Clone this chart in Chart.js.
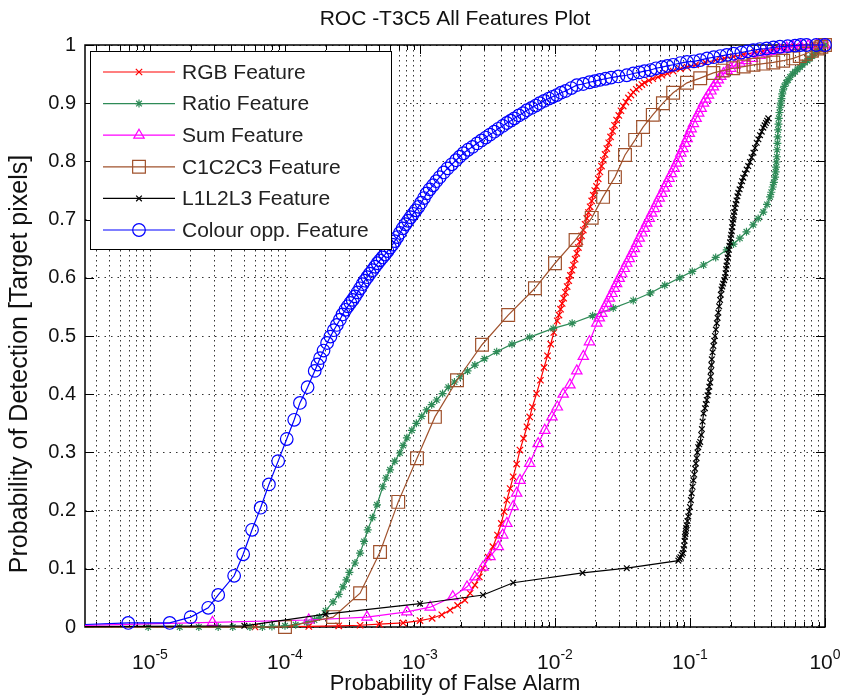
<!DOCTYPE html>
<html>
<head>
<meta charset="utf-8">
<title>ROC -T3C5 All Features Plot</title>
<script src="https://cdn.jsdelivr.net/npm/chart.js@4.4.1/dist/chart.umd.min.js"></script>
<style>
  html, body { margin: 0; padding: 0; background: #fff; }
  #wrap { width: 842px; height: 699px; }
</style>
</head>
<body>
<div id="wrap"><canvas id="rocChart" width="842" height="699"></canvas></div>
<script>
const FONT = "'Liberation Sans', Arial, Helvetica, sans-serif";

const chartTitle = 'ROC -T3C5 All Features Plot';
const xAxisTitle = 'Probability of False Alarm';
const yAxisTitle = 'Probability of Detection [Target pixels]';

// axis range and ticks
const xMin = 3.3e-6;
const xMax = 1;
const xDecades = [1e-6, 1e-5, 1e-4, 1e-3, 1e-2, 1e-1, 1];
const xMinorSteps = [1, 2, 3, 4, 5, 6, 7, 8, 9];
const xLabelValues = [1e-5, 1e-4, 1e-3, 1e-2, 1e-1, 1];
const xLabelExponents = ['-5', '-4', '-3', '-2', '-1', '0'];
const yTickValues = [0, 0.1, 0.2, 0.3, 0.4, 0.5, 0.6, 0.7, 0.8, 0.9, 1];
const yTickLabels = ['0', '0.1', '0.2', '0.3', '0.4', '0.5', '0.6', '0.7', '0.8', '0.9', '1'];

const legendLabels = ['RGB Feature', 'Ratio Feature', 'Sum Feature', 'C1C2C3 Feature', 'L1L2L3 Feature', 'Colour opp. Feature'];

// RGB feature: false alarm / detection
const rgbFa = [1e-6, 6.0e-5, 1.5e-4, 2.5e-4, 3.6e-4, 5.0e-4, 7.5e-4, 1.0e-3, 1.23e-3, 1.45e-3, 1.67e-3, 1.9e-3,
  2.15e-3, 2.35e-3, 2.55e-3, 2.75e-3, 2.93e-3, 3.2e-3, 3.47e-3, 3.75e-3, 4.0e-3, 4.2e-3, 4.4e-3, 4.65e-3, 4.9e-3,
  5.2e-3, 5.5e-3, 5.85e-3, 6.2e-3, 6.5e-3, 6.8e-3, 7.3e-3, 7.8e-3, 8.3e-3, 8.8e-3, 9.3e-3, 9.8e-3,
  1.04e-2, 1.07e-2, 1.1e-2, 1.13e-2, 1.16e-2, 1.195e-2, 1.23e-2, 1.265e-2, 1.3e-2, 1.335e-2, 1.37e-2, 1.41e-2,
  1.45e-2, 1.49e-2, 1.53e-2, 1.575e-2, 1.62e-2, 1.67e-2, 1.72e-2, 1.77e-2, 1.82e-2, 1.87e-2, 1.92e-2, 1.97e-2,
  2.03e-2, 2.09e-2, 2.15e-2, 2.21e-2, 2.28e-2, 2.35e-2, 2.42e-2, 2.5e-2, 2.58e-2, 2.67e-2, 2.76e-2, 2.86e-2,
  2.97e-2, 3.08e-2, 3.2e-2, 3.35e-2, 3.5e-2, 3.65e-2, 3.8e-2, 4.0e-2, 4.2e-2, 4.4e-2, 4.6e-2, 4.95e-2, 5.3e-2,
  5.8e-2, 6.2e-2, 6.8e-2, 7.5e-2, 8.5e-2, 9.5e-2, 0.11, 0.13, 0.155, 0.18, 0.21, 0.25, 0.3, 0.35, 0.42, 0.5, 0.6,
  0.7, 0.85, 1.0];
const rgbPd = [0, 0, 0.001, 0.002, 0.003, 0.005, 0.007, 0.011, 0.015, 0.021, 0.029, 0.037,
  0.046, 0.058, 0.072, 0.086, 0.101, 0.12, 0.138, 0.158, 0.178, 0.198, 0.218, 0.238, 0.258,
  0.28, 0.304, 0.324, 0.344, 0.361, 0.378, 0.401, 0.424, 0.446, 0.466, 0.486, 0.506,
  0.526, 0.536, 0.546, 0.556, 0.565, 0.575, 0.585, 0.595, 0.604, 0.613, 0.622, 0.632,
  0.642, 0.652, 0.662, 0.672, 0.682, 0.692, 0.702, 0.712, 0.722, 0.732, 0.742, 0.75,
  0.757, 0.77, 0.782, 0.792, 0.802, 0.812, 0.822, 0.832, 0.842, 0.852, 0.862, 0.871,
  0.879, 0.887, 0.895, 0.902, 0.909, 0.914, 0.919, 0.924, 0.928, 0.932, 0.935, 0.939, 0.942,
  0.945, 0.948, 0.951, 0.955, 0.959, 0.962, 0.966, 0.97, 0.974, 0.977, 0.98, 0.984, 0.987, 0.99, 0.993, 0.995, 0.997,
  0.998, 0.999, 1.0];

// Ratio feature
const ratioFa = [1e-6, 9.7e-6, 1.66e-5, 2.3e-5, 3.2e-5, 4.1e-5, 5.5e-5, 6.8e-5, 8.0e-5, 1.0e-4, 1.2e-4, 1.45e-4,
  1.65e-4, 1.8e-4, 2.0e-4, 2.27e-4, 2.5e-4, 2.69e-4, 2.85e-4, 3.0e-4, 3.3e-4, 3.6e-4, 3.85e-4, 4.1e-4, 4.45e-4,
  4.8e-4, 5.3e-4, 5.6e-4, 6.0e-4, 6.5e-4, 7.1e-4, 7.5e-4, 8.0e-4, 8.7e-4, 9.4e-4, 1.03e-3, 1.12e-3, 1.22e-3,
  1.33e-3, 1.47e-3, 1.62e-3, 1.8e-3, 1.98e-3, 2.25e-3, 2.55e-3, 3.0e-3, 3.7e-3, 4.8e-3, 6.5e-3, 9.7e-3, 1.34e-2,
  1.9e-2, 2.7e-2, 3.8e-2, 5.1e-2, 6.5e-2, 8.4e-2, 0.104, 0.126, 0.155, 0.187, 0.21, 0.234, 0.262, 0.294, 0.32,
  0.349, 0.372, 0.392, 0.4, 0.41, 0.418, 0.427, 0.431, 0.434, 0.437, 0.44, 0.442, 0.444, 0.446, 0.449, 0.452,
  0.455, 0.46, 0.465, 0.47, 0.476, 0.482, 0.489, 0.5, 0.515, 0.532, 0.551, 0.575, 0.6, 0.625, 0.653, 0.68, 0.71,
  0.74, 0.774, 0.805, 0.84, 0.88, 0.918, 0.96, 1.0];
const ratioPd = [0, 0, 0, 0, 0, 0, 0, 0, 0.001, 0.002, 0.004, 0.008,
  0.012, 0.017, 0.028, 0.043, 0.056, 0.069, 0.081, 0.094, 0.11, 0.127, 0.147, 0.167, 0.188,
  0.21, 0.241, 0.256, 0.27, 0.285, 0.299, 0.312, 0.325, 0.338, 0.35, 0.362, 0.373, 0.382,
  0.39, 0.401, 0.412, 0.421, 0.43, 0.44, 0.45, 0.461, 0.473, 0.486, 0.498, 0.513, 0.522,
  0.535, 0.548, 0.561, 0.574, 0.587, 0.6, 0.611, 0.622, 0.635, 0.648, 0.658, 0.668, 0.679, 0.691, 0.702,
  0.713, 0.726, 0.739, 0.747, 0.756, 0.764, 0.773, 0.782, 0.79, 0.799, 0.808, 0.82, 0.831, 0.842, 0.854, 0.864,
  0.874, 0.884, 0.893, 0.9, 0.908, 0.916, 0.923, 0.929, 0.935, 0.94, 0.945, 0.95, 0.954, 0.958, 0.962, 0.966, 0.97,
  0.973, 0.977, 0.981, 0.985, 0.99, 0.995, 0.998, 1.0];

// Sum feature
const sumFa = [1e-6, 2.9e-5, 1.5e-4, 4.05e-4, 8.0e-4, 1.19e-3, 1.75e-3, 2.23e-3, 2.55e-3, 2.93e-3, 3.3e-3, 3.8e-3,
  4.1e-3, 4.4e-3, 4.9e-3, 5.2e-3, 5.5e-3, 6.5e-3, 7.5e-3, 8.4e-3, 9.5e-3, 1.04e-2, 1.15e-2, 1.29e-2, 1.45e-2,
  1.62e-2, 1.8e-2, 2.04e-2, 2.13e-2, 2.22e-2, 2.32e-2, 2.42e-2, 2.53e-2, 2.64e-2, 2.75e-2, 2.86e-2, 2.99e-2,
  3.12e-2, 3.26e-2, 3.4e-2, 3.55e-2, 3.71e-2, 3.87e-2, 4.03e-2, 4.21e-2, 4.4e-2, 4.59e-2, 4.78e-2, 4.99e-2, 5.21e-2,
  5.43e-2, 5.66e-2, 5.92e-2, 6.18e-2, 6.44e-2, 6.71e-2, 7.0e-2, 7.3e-2, 7.62e-2, 7.96e-2, 8.26e-2, 8.56e-2,
  8.87e-2, 9.18e-2, 9.52e-2, 9.88e-2, 0.102, 0.106, 0.111, 0.116, 0.121, 0.126, 0.131, 0.137, 0.143, 0.149,
  0.155, 0.162, 0.169, 0.177, 0.188, 0.2, 0.215, 0.234, 0.26, 0.29, 0.33, 0.37, 0.41, 0.46, 0.52, 0.582, 0.66,
  0.75, 0.87, 1.0];
const sumPd = [0, 0.008, 0.012, 0.017, 0.026, 0.034, 0.052, 0.069, 0.086, 0.103, 0.121, 0.138,
  0.158, 0.178, 0.207, 0.23, 0.252, 0.281, 0.315, 0.338, 0.361, 0.378, 0.4, 0.416, 0.44,
  0.465, 0.49, 0.522, 0.531, 0.539, 0.548, 0.556, 0.565, 0.573, 0.582, 0.59, 0.599,
  0.607, 0.616, 0.625, 0.633, 0.642, 0.65, 0.659, 0.668, 0.677, 0.685, 0.694, 0.702, 0.711,
  0.719, 0.728, 0.737, 0.745, 0.754, 0.762, 0.771, 0.779, 0.788, 0.797, 0.805, 0.814,
  0.822, 0.831, 0.839, 0.848, 0.856, 0.865, 0.874, 0.883, 0.891, 0.9, 0.907, 0.914, 0.921, 0.928,
  0.934, 0.94, 0.946, 0.951, 0.956, 0.96, 0.965, 0.969, 0.973, 0.977, 0.982, 0.986, 0.989, 0.992, 0.995, 0.997, 0.998,
  0.999, 1.0, 1.0];

// C1C2C3 feature
const c123Fa = [1e-6, 1.0e-4, 2.27e-4, 3.6e-4, 5.06e-4, 6.9e-4, 9.5e-4, 1.29e-3, 1.88e-3, 2.88e-3, 4.5e-3, 7.1e-3,
  1.0e-2, 1.42e-2, 1.87e-2, 2.27e-2, 2.78e-2, 3.3e-2, 3.92e-2, 4.49e-2, 5.3e-2, 6.3e-2, 7.5e-2, 9.5e-2, 0.119,
  0.149, 0.175, 0.209, 0.25, 0.295, 0.35, 0.414, 0.49, 0.582, 0.65, 0.72, 0.8, 0.88, 0.94, 1.0];
const c123Pd = [0, 0, 0.017, 0.058, 0.129, 0.215, 0.29, 0.361, 0.424, 0.485, 0.536, 0.582,
  0.625, 0.665, 0.703, 0.739, 0.773, 0.811, 0.837, 0.859, 0.88, 0.9, 0.918, 0.935, 0.943,
  0.952, 0.956, 0.96, 0.963, 0.966, 0.968, 0.97, 0.973, 0.977, 0.981, 0.985, 0.99, 0.994, 0.997, 1.0];

// L1L2L3 feature
const l123Fa = [1e-6, 5.0e-5, 2.0e-4, 1.0e-3, 2.93e-3, 4.9e-3, 1.6e-2, 3.4e-2, 8.2e-2, 8.35e-2, 8.5e-2, 8.7e-2,
  8.87e-2, 8.97e-2, 9.05e-2, 9.12e-2, 9.18e-2, 9.25e-2, 9.31e-2, 9.38e-2, 9.44e-2, 9.57e-2, 9.7e-2, 9.85e-2,
  0.1, 0.1015, 0.103, 0.1045, 0.106, 0.1075, 0.109, 0.1105, 0.112, 0.1135, 0.115, 0.117, 0.119, 0.121, 0.1225,
  0.124, 0.126, 0.129, 0.131, 0.133, 0.135, 0.137, 0.139, 0.141, 0.142, 0.143, 0.144, 0.145, 0.147, 0.149, 0.151,
  0.153, 0.1555, 0.158, 0.16, 0.162, 0.1645, 0.167, 0.169, 0.171, 0.1735, 0.176, 0.179, 0.182, 0.1835, 0.185,
  0.1865, 0.188, 0.19, 0.192, 0.194, 0.196, 0.198, 0.2, 0.202, 0.204, 0.2055, 0.207, 0.209, 0.211, 0.213, 0.215,
  0.218, 0.221, 0.2245, 0.228, 0.233, 0.238, 0.243, 0.248, 0.255, 0.263, 0.27, 0.278, 0.286, 0.295, 0.303, 0.312,
  0.321, 0.33, 0.34, 0.349, 0.357, 0.365, 0.372, 0.38];
const l123Pd = [0, 0.002, 0.022, 0.04, 0.055, 0.076, 0.093, 0.101, 0.114, 0.117, 0.12, 0.124,
  0.127, 0.134, 0.14, 0.148, 0.155, 0.16, 0.165, 0.17, 0.175, 0.182, 0.19, 0.198,
  0.206, 0.218, 0.23, 0.241, 0.252, 0.262, 0.272, 0.281, 0.29, 0.3, 0.309, 0.314, 0.318, 0.33, 0.34,
  0.353, 0.367, 0.376, 0.383, 0.39, 0.398, 0.405, 0.413, 0.42, 0.43, 0.44, 0.45, 0.46, 0.472, 0.483, 0.492,
  0.5, 0.511, 0.522, 0.531, 0.54, 0.551, 0.562, 0.571, 0.58, 0.585, 0.59, 0.596, 0.601, 0.608, 0.615,
  0.621, 0.628, 0.635, 0.641, 0.648, 0.655, 0.661, 0.668, 0.674, 0.68, 0.687, 0.694, 0.7, 0.707, 0.713, 0.72,
  0.727, 0.733, 0.74, 0.746, 0.752, 0.759, 0.766, 0.772, 0.779, 0.786, 0.792, 0.799, 0.807, 0.815, 0.823, 0.832,
  0.838, 0.845, 0.851, 0.858, 0.862, 0.866, 0.87, 0.874];

// Colour opponent feature
const oppFa = [1e-6, 6.9e-6, 1.4e-5, 2.0e-5, 2.7e-5, 3.2e-5, 4.2e-5, 4.9e-5, 5.7e-5, 6.6e-5, 7.6e-5, 8.9e-5,
  1.03e-4, 1.17e-4, 1.29e-4, 1.47e-4, 1.66e-4, 1.74e-4, 1.82e-4, 1.93e-4, 2.05e-4, 2.17e-4, 2.3e-4, 2.42e-4,
  2.55e-4, 2.67e-4, 2.8e-4, 2.92e-4, 3.05e-4, 3.17e-4, 3.3e-4, 3.45e-4, 3.6e-4, 3.75e-4, 3.9e-4, 4.07e-4, 4.25e-4,
  4.45e-4, 4.65e-4, 4.85e-4, 5.05e-4, 5.27e-4, 5.5e-4, 5.75e-4, 6.0e-4, 6.25e-4, 6.5e-4, 6.8e-4, 7.1e-4, 7.45e-4,
  7.8e-4, 8.15e-4, 8.5e-4, 8.9e-4, 9.3e-4, 9.75e-4, 1.02e-3, 1.07e-3, 1.12e-3, 1.18e-3, 1.25e-3, 1.32e-3, 1.4e-3,
  1.5e-3, 1.6e-3, 1.72e-3, 1.85e-3, 1.97e-3, 2.1e-3, 2.27e-3, 2.45e-3, 2.65e-3, 2.85e-3, 3.07e-3, 3.3e-3, 3.55e-3,
  3.8e-3, 4.1e-3, 4.4e-3, 4.7e-3, 5.0e-3, 5.4e-3, 5.8e-3, 6.2e-3, 6.7e-3, 7.2e-3, 7.7e-3, 8.3e-3, 9.0e-3, 9.6e-3,
  1.03e-2, 1.11e-2, 1.2e-2, 1.32e-2, 1.45e-2, 1.62e-2, 1.8e-2, 1.97e-2, 2.15e-2, 2.37e-2, 2.6e-2, 2.95e-2, 3.4e-2,
  3.8e-2, 4.2e-2, 4.6e-2, 5.1e-2, 5.6e-2, 6.2e-2, 6.8e-2, 7.5e-2, 8.5e-2, 9.5e-2, 0.107, 0.119, 0.134, 0.15, 0.168,
  0.187, 0.21, 0.24, 0.265, 0.294, 0.33, 0.37, 0.415, 0.464, 0.53, 0.6, 0.66, 0.73, 0.86, 1.0];
const oppPd = [0, 0.007, 0.007, 0.017, 0.033, 0.055, 0.088, 0.125, 0.167, 0.205, 0.245, 0.285,
  0.323, 0.356, 0.385, 0.412, 0.44, 0.451, 0.462, 0.475, 0.488, 0.499, 0.51, 0.519,
  0.528, 0.537, 0.545, 0.551, 0.557, 0.562, 0.568, 0.575, 0.582, 0.589, 0.595, 0.601, 0.607,
  0.613, 0.619, 0.625, 0.63, 0.635, 0.64, 0.646, 0.652, 0.657, 0.663, 0.67, 0.677, 0.685,
  0.692, 0.698, 0.704, 0.71, 0.716, 0.722, 0.729, 0.737, 0.745, 0.752, 0.759, 0.766, 0.773,
  0.781, 0.788, 0.795, 0.802, 0.808, 0.814, 0.82, 0.825, 0.831, 0.836, 0.841, 0.846, 0.851,
  0.856, 0.861, 0.866, 0.87, 0.874, 0.879, 0.883, 0.888, 0.892, 0.896, 0.9, 0.904, 0.908, 0.911,
  0.914, 0.918, 0.921, 0.926, 0.931, 0.933, 0.936, 0.938, 0.94, 0.942, 0.944, 0.946, 0.948,
  0.951, 0.953, 0.955, 0.957, 0.96, 0.962, 0.964, 0.966, 0.969, 0.971, 0.972, 0.974, 0.977, 0.979, 0.981,
  0.983, 0.985, 0.987, 0.989, 0.991, 0.993, 0.994, 0.996, 0.997, 0.998, 0.999, 1.0, 1.0, 1.0, 1.0];

// plotting order follows the legend; later entries sit on top
const series = [
  { fa: rgbFa,   pd: rgbPd,   color: '#ff0000', marker: 'crossRot', radius: 4.5 },
  { fa: ratioFa, pd: ratioPd, color: '#2e8b57', marker: 'star',     radius: 4 },
  { fa: sumFa,   pd: sumPd,   color: '#ff00ff', marker: 'triangle', radius: 6 },
  { fa: c123Fa,  pd: c123Pd,  color: '#a0522d', marker: 'rect',     radius: 9 },
  { fa: l123Fa,  pd: l123Pd,  color: '#000000', marker: 'crossRot', radius: 4 },
  { fa: oppFa,   pd: oppPd,   color: '#0000ff', marker: 'circle',   radius: 6.3 }
];

const datasets = series.map((s, i) => ({
  label: legendLabels[i],
  data: s.fa.map((x, k) => ({ x: x, y: s.pd[k] })),
  showLine: true,
  borderColor: s.color,
  borderWidth: 1.2,
  backgroundColor: 'rgba(0,0,0,0)',
  pointStyle: s.marker,
  pointRadius: s.radius,
  pointBorderColor: s.color,
  pointBackgroundColor: 'rgba(0,0,0,0)',
  pointBorderWidth: 1.2,
  tension: 0,
  order: series.length - i,
  clip: { left: 0, top: 10, right: 10, bottom: 10 }
}));

function isDecade(v) {
  const e = Math.log10(v);
  return Math.abs(e - Math.round(e)) < 1e-9;
}

// same marker shapes Chart.js uses, for the legend samples
function drawMarker(ctx, style, x, y, r) {
  ctx.beginPath();
  if (style === 'circle') {
    ctx.arc(x, y, r, 0, Math.PI * 2);
  } else if (style === 'rect') {
    const s = r * Math.SQRT1_2;
    ctx.rect(x - s, y - s, 2 * s, 2 * s);
  } else if (style === 'triangle') {
    ctx.moveTo(x, y - r);
    ctx.lineTo(x + r * Math.sin(Math.PI * 2 / 3), y - r * Math.cos(Math.PI * 2 / 3));
    ctx.lineTo(x + r * Math.sin(Math.PI * 4 / 3), y - r * Math.cos(Math.PI * 4 / 3));
    ctx.closePath();
  } else {
    const d = r * Math.SQRT1_2;
    ctx.moveTo(x - d, y - d); ctx.lineTo(x + d, y + d);
    ctx.moveTo(x - d, y + d); ctx.lineTo(x + d, y - d);
    if (style === 'star') {
      ctx.moveTo(x - r, y); ctx.lineTo(x + r, y);
      ctx.moveTo(x, y - r); ctx.lineTo(x, y + r);
    }
  }
  ctx.stroke();
}

const matlabAxes = {
  id: 'matlabAxes',
  beforeDatasetsDraw(chart) {
    const { ctx, chartArea: a, scales: { x, y } } = chart;
    ctx.save();
    ctx.strokeStyle = '#000';
    ctx.lineWidth = 1;
    ctx.beginPath();
    x.ticks.forEach(t => {
      const px = Math.round(x.getPixelForValue(t.value)) + 0.5;
      const len = isDecade(t.value) ? 9 : 5;
      ctx.moveTo(px, a.bottom); ctx.lineTo(px, a.bottom - len);
      ctx.moveTo(px, a.top); ctx.lineTo(px, a.top + len);
    });
    y.ticks.forEach(t => {
      const py = Math.round(y.getPixelForValue(t.value)) + 0.5;
      ctx.moveTo(a.left, py); ctx.lineTo(a.left + 9, py);
      ctx.moveTo(a.right, py); ctx.lineTo(a.right - 9, py);
    });
    ctx.stroke();
    ctx.lineWidth = 1.5;
    ctx.strokeRect(a.left, a.top, a.right - a.left, a.bottom - a.top);
    ctx.restore();
  },
  afterDraw(chart) {
    const { ctx, chartArea: a, scales: { x } } = chart;
    ctx.save();
    ctx.fillStyle = '#111';

    // title
    ctx.font = '21px ' + FONT;
    ctx.textAlign = 'center';
    ctx.textBaseline = 'middle';
    ctx.fillText(chartTitle, (a.left + a.right) / 2, 19);

    // y axis title, rotated, sitting a little below the axes centre
    ctx.save();
    ctx.translate(20, 364);
    ctx.rotate(-Math.PI / 2);
    ctx.font = '25px ' + FONT;
    ctx.fillText(yAxisTitle, 0, 0);
    ctx.restore();

    // decade labels written as 10 with a raised exponent
    ctx.textAlign = 'left';
    ctx.textBaseline = 'alphabetic';
    xLabelValues.forEach((v, i) => {
      const px = x.getPixelForValue(v);
      ctx.font = '21px ' + FONT;
      const wBase = ctx.measureText('10').width;
      ctx.font = '14px ' + FONT;
      const wExp = ctx.measureText(xLabelExponents[i]).width;
      const start = px - (wBase + wExp) / 2;
      ctx.font = '21px ' + FONT;
      ctx.fillText('10', start, a.bottom + 42);
      ctx.font = '14px ' + FONT;
      ctx.fillText(xLabelExponents[i], start + wBase, a.bottom + 32);
    });

    // legend box
    const box = { left: 90.5, top: 51.5, right: 391.5, bottom: 249.5 };
    ctx.fillStyle = '#fff';
    ctx.fillRect(box.left, box.top, box.right - box.left, box.bottom - box.top);
    ctx.strokeStyle = '#000';
    ctx.lineWidth = 1;
    ctx.strokeRect(box.left, box.top, box.right - box.left, box.bottom - box.top);
    const rowGap = 31.6;
    series.forEach((s, i) => {
      const ry = 72 + i * rowGap;
      ctx.strokeStyle = s.color;
      ctx.lineWidth = 1.2;
      ctx.beginPath();
      ctx.moveTo(103, ry); ctx.lineTo(175, ry);
      ctx.stroke();
      drawMarker(ctx, s.marker, 139, ry, s.radius);
      ctx.fillStyle = '#222';
      ctx.font = '21px ' + FONT;
      ctx.textAlign = 'left';
      ctx.textBaseline = 'middle';
      ctx.fillText(legendLabels[i], 182, ry + 1);
    });
    ctx.restore();
  }
};

const xTickValues = [];
xDecades.forEach(d => xMinorSteps.forEach(m => {
  const v = d * m;
  if (v >= xMin && v <= xMax * 1.0000001) xTickValues.push(v);
}));

new Chart(document.getElementById('rocChart'), {
  type: 'scatter',
  data: { datasets: datasets },
  options: {
    responsive: false,
    animation: false,
    events: [],
    layout: { padding: { top: 45, right: 17, bottom: 0, left: 0 } },
    plugins: {
      legend: { display: false },
      tooltip: { enabled: false },
      title: { display: false }
    },
    scales: {
      x: {
        type: 'logarithmic',
        min: xMin,
        max: xMax,
        afterBuildTicks: scale => { scale.ticks = xTickValues.map(v => ({ value: v })); },
        afterFit: scale => { scale.height = 72; },
        ticks: { display: false, autoSkip: false },
        grid: { color: 'rgba(0,0,0,0.8)', lineWidth: 1, drawTicks: false },
        border: { display: false, dash: [1.5, 3.5] },
        title: {
          display: true,
          text: xAxisTitle,
          color: '#111',
          font: { family: FONT, size: 22 },
          padding: { top: 0, bottom: 2 }
        }
      },
      y: {
        type: 'linear',
        min: 0,
        max: 1,
        afterBuildTicks: scale => { scale.ticks = yTickValues.map(v => ({ value: v })); },
        afterFit: scale => { scale.width = 85; },
        ticks: {
          autoSkip: false,
          padding: 9,
          color: '#111',
          font: { family: FONT, size: 20 },
          callback: (v, i) => yTickLabels[i]
        },
        grid: { color: 'rgba(0,0,0,0.8)', lineWidth: 1, drawTicks: false },
        border: { display: false, dash: [1.5, 5] },
        title: { display: false }
      }
    }
  },
  plugins: [matlabAxes]
});
</script>
</body>
</html>
